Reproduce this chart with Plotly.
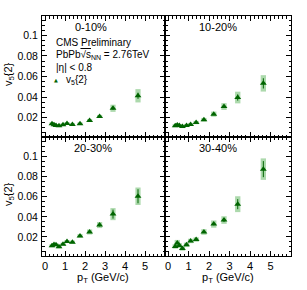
import plotly.graph_objects as go

# ---------------- data ----------------
pt = [0.35, 0.45, 0.55, 0.7, 0.9, 1.1, 1.37, 1.75, 2.23, 2.73, 3.4, 4.65]

v5_0_10 = [0.0140, 0.0129, 0.0122, 0.0119, 0.0129, 0.0142, 0.0132, 0.0139, 0.0171, 0.0210, 0.0290, 0.0412]
v5_10_20 = [0.0120, 0.0126, 0.0121, 0.0112, 0.0122, 0.0132, 0.0151, 0.0178, 0.0233, 0.0307, 0.0395, 0.0533]
v5_20_30 = [0.0111, 0.0124, 0.0121, 0.0101, 0.0127, 0.0154, 0.0147, 0.0210, 0.0249, 0.0318, 0.0427, 0.0605]
v5_30_40 = [0.0105, 0.0140, 0.0115, 0.0085, 0.0121, 0.0160, 0.0174, 0.0249, 0.0328, 0.0368, 0.0526, 0.0875]

stat_0_10 = [0.0004, 0.0004, 0.0004, 0.0004, 0.0004, 0.0004, 0.0005, 0.0005, 0.0006, 0.0008, 0.0015, 0.0030]
stat_10_20 = [0.0004, 0.0004, 0.0004, 0.0004, 0.0004, 0.0005, 0.0005, 0.0006, 0.0008, 0.0012, 0.0030, 0.0050]
stat_20_30 = [0.0004, 0.0004, 0.0004, 0.0004, 0.0005, 0.0005, 0.0006, 0.0007, 0.0009, 0.0014, 0.0045, 0.0070]
stat_30_40 = [0.0005, 0.0005, 0.0005, 0.0005, 0.0006, 0.0006, 0.0007, 0.0008, 0.0012, 0.0020, 0.0050, 0.0080]

sys_0_10 = [0.0013, 0.0013, 0.0013, 0.0013, 0.0013, 0.0013, 0.0013, 0.0013, 0.0014, 0.0015, 0.0035, 0.0065]
sys_10_20 = [0.0015, 0.0015, 0.0015, 0.0015, 0.0015, 0.0015, 0.0016, 0.0018, 0.0025, 0.0033, 0.0057, 0.0080]
sys_20_30 = [0.0015, 0.0015, 0.0015, 0.0015, 0.0015, 0.0015, 0.0016, 0.0018, 0.0025, 0.0030, 0.0060, 0.0087]
sys_30_40 = [0.0022, 0.0030, 0.0022, 0.0022, 0.0022, 0.0022, 0.0022, 0.0028, 0.0036, 0.0038, 0.0079, 0.0107]

centralities = ["0-10%", "10-20%", "20-30%", "30-40%"]
x_ticks = [0, 1, 2, 3, 4, 5]
y_ticks = [0.02, 0.04, 0.06, 0.08, 0.1]
y_tick_labels = ["0.02", "0.04", "0.06", "0.08", "0.1"]

# ---------------- figure ----------------
W, H = 307, 290
FONT = "Liberation Sans, Arial, sans-serif"
MARK = "#006400"
BOX = "rgba(70,170,70,0.45)"

panels = [
    (v5_0_10, stat_0_10, sys_0_10),
    (v5_10_20, stat_10_20, sys_10_20),
    (v5_20_30, stat_20_30, sys_20_30),
    (v5_30_40, stat_30_40, sys_30_40),
]

fig = go.Figure()
for i, (v, st, sy) in enumerate(panels):
    xa = "x" if i == 0 else f"x{i+1}"
    ya = "y" if i == 0 else f"y{i+1}"
    fig.add_trace(go.Bar(
        x=pt, y=[2 * s for s in sy], base=[a - s for a, s in zip(v, sy)],
        width=0.26, marker=dict(color=BOX, line=dict(width=0)),
        xaxis=xa, yaxis=ya, showlegend=False, hoverinfo="skip"))
    fig.add_trace(go.Scatter(
        x=pt, y=v, mode="markers",
        marker=dict(symbol="triangle-up", size=6, color=MARK, line=dict(width=0)),
        error_y=dict(type="data", array=st, visible=True, thickness=1, width=0, color=MARK),
        xaxis=xa, yaxis=ya, showlegend=False))

xl = [42 / W, 165 / W]
xr = [165 / W, 291 / W]
yt = [(H - 137) / H, (H - 16) / H]
yb = [(H - 256) / H, (H - 137) / H]

def xaxis(dom, labels, anchor):
    return dict(domain=dom, range=[-0.15, 6.0], anchor=anchor, automargin=False,
                tickmode="array", tickvals=x_ticks, showticklabels=labels,
                ticks="inside", ticklen=5, tickwidth=1, tickcolor="black",
                minor=dict(dtick=0.2, tick0=0, ticks="inside", ticklen=2.5, tickcolor="black"),
                showline=True, linecolor="black", linewidth=1, mirror="allticks",
                showgrid=False, zeroline=False,
                tickfont=dict(family=FONT, size=11, color="black"))

def yaxis(dom, labels, anchor, rng):
    return dict(domain=dom, range=rng, anchor=anchor, automargin=False,
                tickmode="array", tickvals=y_ticks, ticktext=y_tick_labels,
                showticklabels=labels,
                ticks="inside", ticklen=5, tickwidth=1, tickcolor="black",
                minor=dict(dtick=0.005, tick0=0, ticks="inside", ticklen=2.5, tickcolor="black"),
                showline=True, linecolor="black", linewidth=1, mirror="allticks",
                showgrid=False, zeroline=False, ticklabelstandoff=1,
                tickfont=dict(family=FONT, size=10.5, color="black"))

rt = [0.001, 0.119]
rb = [0.001, 0.1195]
fig.update_layout(
    template="none",
    width=W, height=H, margin=dict(l=0, r=0, t=0, b=0, pad=0),
    paper_bgcolor="white", plot_bgcolor="white", barmode="overlay",
    showlegend=False,
    xaxis=xaxis(xl, False, "y"), yaxis=yaxis(yt, True, "x", rt),
    xaxis2=xaxis(xr, False, "y2"), yaxis2=yaxis(yt, False, "x2", rt),
    xaxis3=xaxis(xl, True, "y3"), yaxis3=yaxis(yb, True, "x3", rb),
    xaxis4=xaxis(xr, True, "y4"), yaxis4=yaxis(yb, False, "x4", rb),
)

def ann(text, px, py, size=11, xanchor="center", **kw):
    fig.add_annotation(text=text, x=px / W, y=1 - py / H, xref="paper", yref="paper",
                       xanchor=xanchor, yanchor="middle", showarrow=False,
                       font=dict(family=FONT, size=size, color="black"), **kw)

ann(centralities[0], 90.5, 27)
ann(centralities[1], 217.5, 27)
ann(centralities[2], 93, 148)
ann(centralities[3], 217.5, 148)

ann("CMS Preliminary", 54, 43, size=10, xanchor="left")
ann("PbPb<span style='text-decoration:overline'>√s</span><sub>NN</sub> = 2.76TeV", 54, 55, size=10, xanchor="left")
ann("|η| < 0.8", 54, 67, size=10, xanchor="left")
fig.add_annotation(text="▲", x=56 / W, y=1 - 80 / H, xref="paper", yref="paper",
                   xanchor="center", yanchor="middle", showarrow=False,
                   font=dict(family="DejaVu Sans", size=5, color=MARK))
ann("v<sub>5</sub>{2}", 64, 80, size=10, xanchor="left")

ann("v<sub>5</sub>{2}", 9, 74, size=11, textangle=-90)
ann("v<sub>5</sub>{2}", 9, 194, size=11, textangle=-90)
ann("p<sub>T</sub> (GeV/c)", 103, 278, size=11)
ann("p<sub>T</sub> (GeV/c)", 228, 278, size=11)

fig.write_html("out.html", config={"displayModeBar": False},
               post_script="document.body.style.margin='0';document.body.style.overflow='hidden';")
